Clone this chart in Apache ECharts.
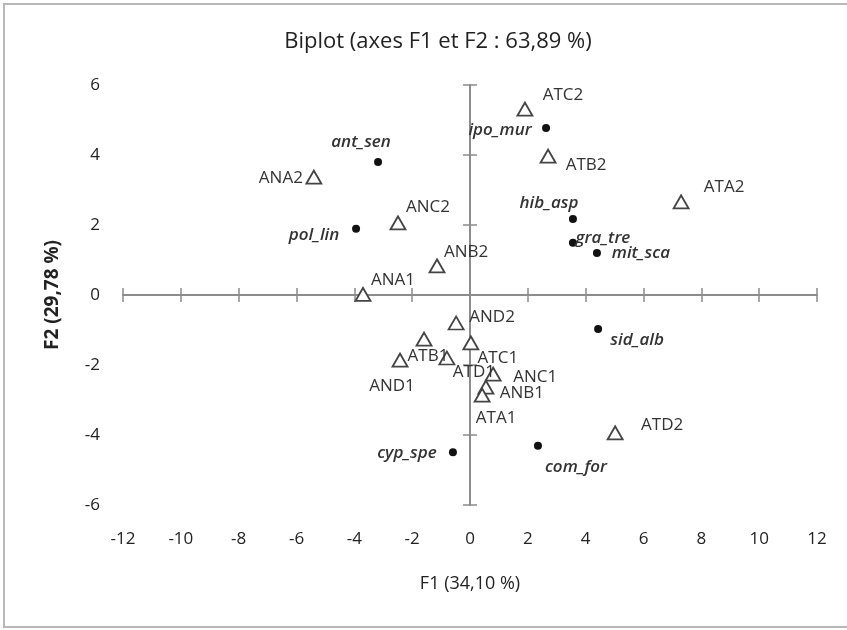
<!DOCTYPE html>
<html>
<head>
<meta charset="utf-8">
<script src="https://cdn.jsdelivr.net/npm/echarts@6/dist/echarts.min.js"></script>
<style>
  html, body { margin: 0; padding: 0; background: #fff; }
  #chart { width: 847px; height: 630px; }
</style>
</head>
<body>
<div id="chart"></div>
<script>
'use strict';

// observations (triangles)
var obsNames = ['ATC2', 'ATB2', 'ANA2', 'ANC2', 'ANB2', 'ATA2', 'ANA1', 'AND2', 'ATB1', 'ATC1', 'AND1', 'ATD1', 'ANC1', 'ANB1', 'ATA1', 'ATD2'];
var obsF1 = [1.90, 2.70, -5.40, -2.49, -1.14, 7.30, -3.70, -0.48, -1.59, 0.03, -2.42, -0.80, 0.80, 0.55, 0.42, 5.02];
var obsF2 = [5.31, 3.97, 3.37, 2.06, 0.83, 2.66, 0.02, -0.80, -1.26, -1.37, -1.86, -1.80, -2.26, -2.63, -2.86, -3.94];

// variables (dots)
var varNames = ['ipo_mur', 'ant_sen', 'pol_lin', 'hib_asp', 'gra_tre', 'mit_sca', 'sid_alb', 'com_for', 'cyp_spe'];
var varF1 = [2.63, -3.18, -3.94, 3.56, 3.56, 4.39, 4.43, 2.35, -0.59];
var varF2 = [4.77, 3.80, 1.89, 2.17, 1.49, 1.20, -0.97, -4.31, -4.49];

var xTicks = [-12, -10, -8, -6, -4, -2, 0, 2, 4, 6, 8, 10, 12];
var yTicks = [-6, -4, -2, 0, 2, 4, 6];

// label offsets from the marker centre, px
var labelOffset = {
	ATC2: [38, -14], ATB2: [38, 9], ANA2: [-33, 1], ANC2: [30, -16], ANB2: [29, -14],
	ATA2: [43, -15], ANA1: [30, -14], AND2: [36, -6], ATB1: [4, 17], ATC1: [27, 15],
	AND1: [-8, 26], ATD1: [27, 14], ANC1: [42, 3], ANB1: [36, 6], ATA1: [14, 23], ATD2: [47, -8],
	ipo_mur: [-46, 2], ant_sen: [-17, -20], pol_lin: [-42, 6], hib_asp: [-24, -16],
	gra_tre: [30, -5], mit_sca: [44, 0], sid_alb: [39, 11], com_for: [38, 21], cyp_spe: [-46, 1]
};

var axisColor = '#8c8c8c';
var sansFont = '"Open Sans", "Noto Sans", sans-serif';

function buildPoints(names, xs, ys) {
	return names.map(function (n, i) {
		return {
			name: n,
			value: [xs[i], ys[i]],
			label: { offset: labelOffset[n] }
		};
	});
}

var chart = echarts.init(document.getElementById('chart'));

var baseX = { type: 'value', min: xTicks[0], max: xTicks[xTicks.length - 1], interval: 2, splitLine: { show: false } };
var baseY = { type: 'value', min: yTicks[0], max: yTicks[yTicks.length - 1], interval: 2, splitLine: { show: false } };

chart.setOption({
	animation: false,
	backgroundColor: '#fff',
	title: {
		text: 'Biplot (axes F1 et F2 : 63,89 %)',
		left: 433,
		textAlign: 'center',
		top: 26,
		textStyle: { fontFamily: sansFont, fontSize: 22, fontWeight: 'normal', color: '#222' }
	},
	graphic: [{
		type: 'rect',
		shape: { x: 4, y: 4, width: 860, height: 623 },
		style: { fill: 'none', stroke: '#b8b8b8', lineWidth: 2 },
		silent: true
	}],
	grid: { left: 123, right: 30, top: 85, bottom: 125 },
	xAxis: [
		echarts.util.merge({
			position: 'bottom',
			axisLine: { show: false, onZero: false },
			axisTick: { show: false },
			axisLabel: { margin: 26, fontFamily: sansFont, fontSize: 17, color: '#222' },
			name: 'F1 (34,10 %)',
			nameLocation: 'middle',
			nameGap: 70,
			nameTextStyle: { fontFamily: sansFont, fontSize: 18, color: '#222' }
		}, baseX),
		echarts.util.merge({
			axisLine: { show: true, onZero: true, lineStyle: { color: axisColor, width: 2 } },
			axisTick: { show: true, length: 7, inside: false, lineStyle: { color: axisColor, width: 1.5 } },
			axisLabel: { show: false }
		}, baseX),
		echarts.util.merge({
			axisLine: { show: false, onZero: true },
			axisTick: { show: true, length: 7, inside: true, lineStyle: { color: axisColor, width: 1.5 } },
			axisLabel: { show: false }
		}, baseX)
	],
	yAxis: [
		echarts.util.merge({
			position: 'left',
			axisLine: { show: false, onZero: false },
			axisTick: { show: false },
			axisLabel: { margin: 23, fontFamily: sansFont, fontSize: 17, color: '#222' },
			name: 'F2 (29,78 %)',
			nameLocation: 'middle',
			nameGap: 61,
			nameTextStyle: { fontFamily: sansFont, fontSize: 19, fontWeight: 'bold', color: '#222' }
		}, baseY),
		echarts.util.merge({
			axisLine: { show: true, onZero: true, lineStyle: { color: axisColor, width: 2 } },
			axisTick: { show: true, length: 7, inside: false, lineStyle: { color: axisColor, width: 1.5 } },
			axisLabel: { show: false }
		}, baseY),
		echarts.util.merge({
			axisLine: { show: false, onZero: true },
			axisTick: { show: true, length: 7, inside: true, lineStyle: { color: axisColor, width: 1.5 } },
			axisLabel: { show: false }
		}, baseY)
	],
	series: [
		{
			name: 'Observations',
			type: 'scatter',
			symbol: 'triangle',
			symbolSize: [15, 13],
			itemStyle: { color: '#fff', borderColor: '#444', borderWidth: 1.8, opacity: 1 },
			label: {
				show: true,
				position: 'inside',
				formatter: '{b}',
				fontFamily: sansFont,
				fontSize: 17,
				color: '#333'
			},
			data: buildPoints(obsNames, obsF1, obsF2)
		},
		{
			name: 'Variables',
			type: 'scatter',
			symbol: 'circle',
			symbolSize: 8,
			itemStyle: { color: '#111', opacity: 1 },
			label: {
				show: true,
				position: 'inside',
				formatter: '{b}',
				fontFamily: sansFont,
				fontSize: 17,
				fontStyle: 'italic',
				fontWeight: 600,
				color: '#333'
			},
			data: buildPoints(varNames, varF1, varF2)
		}
	]
});
</script>
</body>
</html>
